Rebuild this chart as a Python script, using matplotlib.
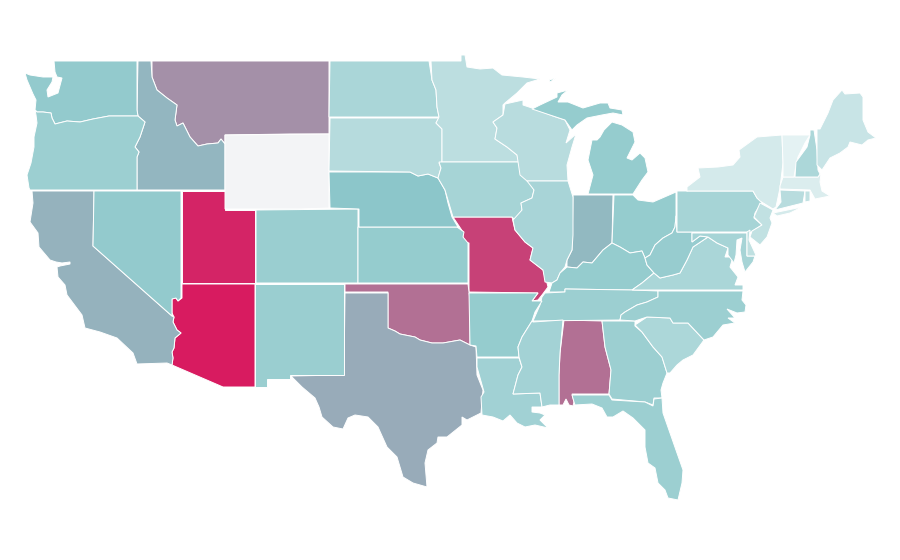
import matplotlib
matplotlib.use('Agg')
import matplotlib.pyplot as plt
from matplotlib.colors import LinearSegmentedColormap, Normalize

# value per state (None = no data)
state_names = ['AZ', 'UT', 'MO', 'OK', 'AL', 'MT', 'TX', 'CA', 'ID', 'IN', 'WY',
               'WA', 'NV', 'OR', 'CO', 'NM', 'KS', 'NE', 'ND', 'SD', 'MN', 'IA',
               'WI', 'IL', 'MI', 'OH', 'KY', 'TN', 'AR', 'LA', 'MS', 'GA', 'FL',
               'SC', 'NC', 'VA', 'WV', 'PA', 'NY', 'MD', 'DE', 'NJ', 'CT', 'RI',
               'MA', 'VT', 'NH', 'ME']
state_values = [100, 97, 89, 75, 75, 66, 58, 56, 55, 54, None,
                47, 47, 43, 44, 44, 46, 50, 37, 32, 29, 39,
                31, 38, 46, 46, 46, 43, 46, 41, 40, 43, 43,
                36, 43, 37, 45, 39, 19, 39, 28, 27, 31, 27,
                16, 12, 36, 24]

# state outlines in map units (lower 48, already projected)
outlines = {
    'WA': [[(54, 61), (137, 61), (137, 110), (138, 116), (109, 116), (93, 119), (80, 122), (67, 121), (55, 124),
            (52, 118), (51, 113), (43, 112), (37, 112), (35, 110), (36, 100), (33, 94), (30, 87), (27, 80), (25, 73),
            (30, 75), (43, 77), (53, 77), (52, 82), (47, 90), (48, 97), (58, 93), (62, 78), (57, 77), (55, 72)]],
    'OR': [[(35, 110), (37, 112), (43, 112), (51, 113), (52, 118), (55, 124), (67, 121), (80, 122), (93, 119),
            (109, 116), (138, 116), (145, 122), (143, 128), (140, 137), (135, 147), (139, 152), (137, 157), (137, 190),
            (30, 190), (29, 188), (27, 175), (31, 163), (34, 147), (34, 137), (37, 123), (36, 115)]],
    'ID': [[(138, 61), (151, 61), (152, 77), (157, 90), (167, 98), (177, 105), (175, 120), (177, 126), (183, 123),
            (190, 137), (198, 146), (207, 144), (218, 143), (221, 139), (225, 144), (225, 190), (137, 190), (137, 157),
            (139, 152), (135, 147), (140, 137), (143, 128), (145, 122), (138, 116), (137, 110)]],
    'MT': [[(152, 61), (329, 61), (329, 134), (290, 134), (225, 135), (225, 144), (221, 139), (218, 143), (207, 144),
            (198, 146), (190, 137), (183, 123), (177, 126), (175, 120), (177, 105), (167, 98), (157, 90), (152, 77)]],
    'WY': [[(225, 135), (329, 134), (329, 208), (300, 209), (225, 209)]],
    'UT': [[(182, 191), (225, 191), (225, 210), (255, 210), (255, 283), (182, 283)]],
    'NV': [[(94, 191), (181, 191), (181, 298), (178, 301), (176, 298), (172, 299), (172, 313), (172, 316), (93, 246)]],
    'CA': [[(32, 191), (94, 191), (93, 246), (172, 316), (174, 317), (173, 322), (177, 330), (181, 333), (175, 338),
            (174, 348), (172, 352), (173, 358), (172, 365), (167, 363), (137, 364), (133, 353), (117, 338), (100, 332),
            (85, 328), (82, 315), (67, 295), (65, 285), (58, 277), (57, 267), (60, 266), (70, 264), (70, 262), (62, 263),
            (56, 262), (50, 260), (39, 247), (38, 233), (30, 222), (33, 203)]],
    'AZ': [[(182, 284), (255, 284), (255, 387), (223, 387), (172, 365), (173, 358), (172, 352), (174, 348), (175, 338),
            (181, 333), (177, 330), (173, 322), (174, 317), (172, 313), (172, 299), (176, 298), (178, 301), (182, 298)]],
    'CO': [[(256, 210), (358, 209), (358, 283), (256, 283)]],
    'NM': [[(255, 284), (344, 284), (344, 375), (290, 375), (290, 379), (267, 379), (267, 387), (255, 387)]],
    'TX': [[(345, 293), (388, 293), (388, 328), (395, 331), (400, 334), (415, 337), (420, 340), (432, 343), (443, 343),
            (460, 340), (470, 345), (476, 347), (477, 375), (483, 390), (481, 413), (467, 420), (462, 417), (462, 425),
            (447, 437), (438, 437), (437, 443), (428, 450), (425, 463), (427, 487), (413, 483), (403, 477), (397, 457),
            (387, 447), (378, 427), (368, 417), (355, 415), (348, 418), (343, 429), (333, 427), (322, 417), (319, 407),
            (315, 398), (302, 387), (292, 377), (290, 376), (344, 375)]],
    'OK': [[(345, 284), (468, 284), (470, 300), (470, 345), (460, 340), (443, 343), (432, 343), (420, 340), (415, 337),
            (400, 334), (395, 331), (388, 328), (388, 292), (345, 292)]],
    'KS': [[(358, 227), (457, 227), (464, 232), (463, 237), (468, 243), (468, 283), (358, 283)]],
    'NE': [[(329, 172), (343, 172), (410, 172), (418, 176), (428, 174), (438, 178), (445, 190), (448, 203), (452, 217),
            (458, 227), (359, 227), (359, 209), (330, 208)]],
    'ND': [[(330, 61), (429, 61), (432, 80), (436, 90), (437, 107), (439, 117), (329, 117)]],
    'SD': [[(330, 118), (439, 118), (436, 123), (442, 129), (442, 162), (439, 163), (441, 168), (438, 178), (428, 174),
            (418, 176), (410, 172), (329, 171)]],
    'MN': [[(431, 61), (461, 61), (461, 55), (465, 55), (467, 67), (480, 69), (493, 68), (502, 75), (523, 77), (540, 79),
            (527, 83), (517, 93), (505, 103), (503, 105), (503, 115), (493, 122), (497, 128), (495, 139), (507, 147),
            (517, 155), (519, 162), (442, 162), (442, 129), (436, 123), (439, 117), (437, 107), (436, 90), (432, 80)]],
    'IA': [[(439, 162), (519, 162), (521, 175), (527, 178), (534, 190), (532, 198), (521, 203), (522, 210), (515, 220),
            (512, 217), (453, 217), (445, 190), (438, 178), (441, 168)]],
    'WI': [[(505, 104), (523, 100), (523, 105), (532, 108), (553, 116), (565, 120), (570, 130), (566, 143), (576, 134),
            (572, 147), (567, 165), (568, 181), (527, 181), (520, 175), (517, 155), (507, 147), (495, 139), (497, 128),
            (493, 122), (503, 115)]],
    'IL': [[(527, 181), (568, 181), (573, 197), (573, 235), (572, 250), (567, 260), (565, 267), (560, 273), (557, 280),
            (552, 283), (545, 282), (543, 270), (530, 260), (533, 248), (525, 242), (515, 230), (513, 220), (522, 210),
            (521, 203), (532, 198), (534, 190)]],
    'MI': [[(588, 194), (633, 194), (642, 180), (648, 172), (645, 158), (640, 153), (632, 160), (627, 158), (635, 142),
            (633, 132), (622, 125), (612, 122), (604, 130), (600, 137), (597, 140), (592, 140), (588, 160), (593, 175)],
           [(532, 109), (540, 105), (557, 97), (557, 93), (568, 90), (562, 95), (558, 102), (568, 102), (583, 108),
            (600, 103), (608, 103), (610, 108), (622, 110), (623, 115), (613, 113), (602, 115), (587, 118), (577, 125),
            (572, 130), (565, 120), (553, 116)],
           [(549, 80), (556, 78), (550, 82)]],
    'IN': [[(573, 195), (613, 195), (612, 243), (603, 250), (592, 263), (583, 262), (577, 268), (567, 267), (567, 260),
            (572, 250)]],
    'OH': [[(614, 195), (633, 195), (638, 200), (653, 202), (676, 192), (676, 215), (675, 227), (672, 233), (663, 238),
            (655, 245), (650, 255), (645, 258), (642, 251), (630, 253), (620, 247), (612, 243)]],
    'KY': [[(549, 292), (565, 292), (565, 289), (632, 290), (642, 283), (654, 273), (647, 265), (645, 258), (642, 251),
            (630, 253), (620, 247), (612, 243), (603, 250), (592, 263), (583, 262), (577, 268), (567, 267), (560, 273),
            (557, 280), (552, 283)]],
    'TN': [[(545, 293), (565, 292), (565, 289), (632, 290), (658, 291), (658, 297), (647, 302), (637, 305), (625, 312),
            (621, 315), (620, 320), (533, 321), (540, 305), (542, 297)]],
    'MO': [[(453, 217), (512, 217), (515, 230), (525, 242), (533, 248), (530, 260), (543, 270), (547, 283), (548, 287),
            (542, 295), (538, 300), (532, 301), (538, 293), (469, 292), (469, 243), (463, 242), (463, 232)]],
    'AR': [[(469, 293), (538, 293), (532, 301), (542, 301), (535, 312), (532, 321), (522, 337), (518, 347), (519, 357),
            (477, 357), (476, 346), (470, 345)]],
    'LA': [[(477, 358), (519, 358), (522, 367), (518, 375), (513, 394), (540, 393), (542, 407), (532, 407), (532, 412),
            (540, 413), (545, 415), (540, 420), (548, 428), (535, 425), (525, 427), (517, 423), (510, 415), (503, 421),
            (493, 417), (482, 415), (481, 397), (484, 392), (477, 367)]],
    'MS': [[(533, 322), (563, 320), (560, 353), (559, 375), (559, 405), (550, 405), (542, 407), (540, 393), (513, 394),
            (518, 375), (522, 367), (519, 357), (518, 347), (522, 337), (532, 321)]],
    'AL': [[(564, 320), (602, 321), (605, 347), (611, 370), (609, 394), (572, 394), (574, 402), (573, 406), (569, 405),
            (566, 399), (563, 405), (559, 405), (559, 375), (560, 353)]],
    'GA': [[(602, 321), (635, 321), (635, 326), (642, 332), (653, 347), (662, 357), (667, 373), (663, 383), (661, 390),
            (662, 398), (654, 398), (653, 405), (645, 402), (612, 399), (609, 394), (611, 370), (605, 347)]],
    'FL': [[(572, 395), (609, 395), (612, 400), (645, 402), (653, 406), (654, 399), (662, 398), (663, 413), (670, 433),
            (677, 453), (683, 470), (682, 483), (678, 500), (668, 498), (665, 490), (658, 483), (655, 468), (648, 463),
            (645, 447), (645, 430), (633, 418), (623, 411), (613, 417), (607, 417), (602, 408), (592, 404), (575, 405),
            (574, 402)]],
    'SC': [[(635, 325), (647, 317), (670, 318), (673, 323), (688, 323), (704, 340), (693, 355), (683, 360), (677, 365),
            (670, 373), (667, 373), (662, 357), (653, 347), (642, 332)]],
    'NC': [[(658, 291), (743, 291), (742, 300), (746, 305), (745, 312), (737, 313), (727, 309), (735, 318), (728, 318),
            (735, 323), (723, 325), (713, 337), (704, 340), (688, 323), (673, 323), (670, 318), (647, 317), (635, 321),
            (620, 320), (621, 315), (625, 312), (637, 305), (647, 302), (658, 297)]],
    'VA': [[(632, 290), (743, 290), (743, 285), (735, 285), (738, 277), (730, 267), (733, 257), (725, 257), (728, 248),
            (717, 243), (708, 237), (693, 247), (687, 260), (680, 273), (673, 275), (660, 278), (654, 273), (642, 283)]],
    'WV': [[(645, 258), (650, 255), (655, 245), (663, 238), (672, 233), (675, 227), (676, 216), (677, 232), (692, 232),
            (692, 242), (700, 236), (708, 237), (693, 247), (687, 260), (680, 273), (673, 275), (660, 278), (654, 273),
            (647, 265)]],
    'PA': [[(677, 191), (687, 191), (687, 187), (687, 191), (753, 191), (757, 198), (762, 202), (755, 213), (754, 218),
            (762, 225), (751, 232), (677, 232)]],
    'NY': [[(687, 191), (687, 187), (700, 177), (698, 168), (718, 167), (733, 165), (740, 157), (739, 150), (757, 137),
            (782, 135), (783, 163), (780, 188), (776, 207), (773, 209), (760, 201), (757, 198), (753, 191)],
           [(773, 213), (802, 207), (790, 213), (777, 216)]],
    'MD': [[(692, 233), (747, 233), (747, 256), (755, 256), (753, 262), (745, 272), (742, 262), (740, 250), (742, 238),
            (737, 240), (736, 255), (734, 263), (728, 255), (728, 248), (717, 243), (708, 237), (700, 236), (692, 242)]],
    'DE': [[(747, 232), (750, 230), (749, 240), (755, 253), (756, 256), (747, 256)]],
    'NJ': [[(760, 203), (773, 210), (770, 218), (772, 223), (767, 237), (760, 245), (750, 237), (752, 231), (762, 225),
            (754, 217), (757, 210)]],
    'CT': [[(780, 190), (805, 191), (803, 203), (775, 210), (781, 202)]],
    'RI': [[(805, 191), (810, 191), (810, 201), (805, 202)]],
    'MA': [[(783, 177), (818, 177), (821, 173), (820, 182), (822, 191), (830, 196), (815, 199), (810, 190), (780, 189),
            (780, 186)]],
    'VT': [[(782, 135), (810, 135), (805, 143), (798, 157), (796, 165), (794, 177), (783, 177), (783, 163)]],
    'NH': [[(810, 135), (810, 130), (814, 130), (817, 150), (818, 170), (820, 174), (818, 177), (795, 177), (796, 162),
            (807, 147)]],
    'ME': [[(817, 129), (820, 129), (828, 113), (833, 100), (842, 90), (845, 94), (860, 93), (863, 97), (863, 120),
            (868, 132), (876, 138), (868, 140), (862, 145), (850, 142), (848, 147), (840, 153), (830, 158), (822, 170),
            (817, 165)]],
}

cmap = LinearSegmentedColormap.from_list('rate', ['#ffffff', '#8cc7ca', '#d81b60'])
norm = Normalize(0, 100)
no_data = '#f3f4f6'

fig = plt.figure(figsize=(9, 5.6), dpi=100)
ax = fig.add_axes([0, 0, 1, 1])

for name, value in zip(state_names, state_values):
    color = no_data if value is None else cmap(norm(value))
    for part in outlines[name]:
        xs, ys = zip(*part)
        ax.fill(xs, ys, facecolor=color, edgecolor='white', linewidth=0.7)

ax.set_xlim(0, 900)
ax.set_ylim(560, 0)
ax.axis('off')

fig.savefig('out.png', dpi=100)
